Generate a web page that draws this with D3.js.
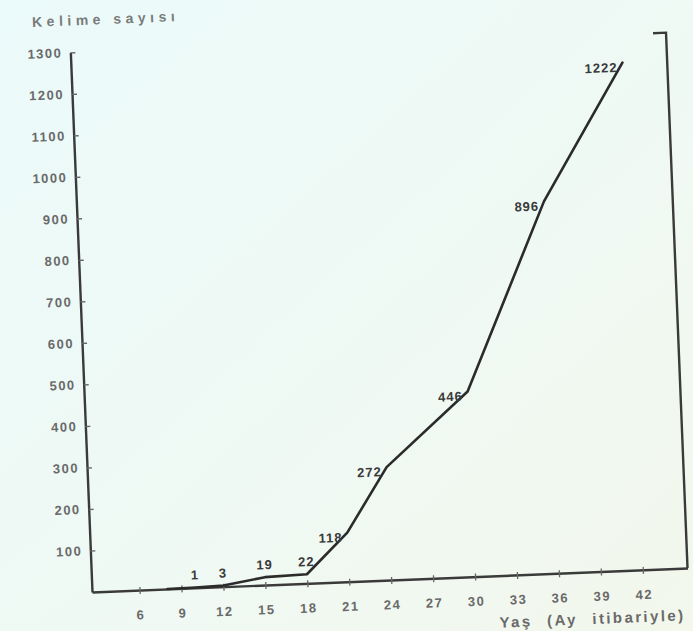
<!DOCTYPE html>
<html>
<head>
<meta charset="utf-8">
<script src="https://cdn.jsdelivr.net/npm/d3@7"></script>
<style>
  body { margin: 0; background: #eff9f5; }
  text { font-family: "Liberation Sans", Arial, sans-serif; }
</style>
</head>
<body>
<div id="vis-container"></div>
<script>
// Kelime sayısı by age (months)
const months = [8, 10, 12, 15, 18, 21, 24, 30, 36, 42];
const words = [0, 1, 3, 19, 22, 118, 272, 446, 896, 1222];
const xTicks = [6, 9, 12, 15, 18, 21, 24, 27, 30, 33, 36, 39, 42];
const yTicks = [100, 200, 300, 400, 500, 600, 700, 800, 900, 1000, 1100, 1200, 1300];

const width = 693,
  height = 631,
  margin = {top: 52, left: 92},
  dWidth = 596,
  dHeight = 540,
  tilt = -2.3; // scan is slightly rotated

const svg = d3.select('#vis-container')
  .append('svg')
  .attr('width', width)
  .attr('height', height);

let grad = svg.append("defs").append("linearGradient")
  .attr("id", "paper").attr("x1", 0).attr("y1", 0).attr("x2", 1).attr("y2", 1);
grad.append("stop").attr("offset", "0%").attr("stop-color", "#ebfafa");
grad.append("stop").attr("offset", "55%").attr("stop-color", "#eff9f4");
grad.append("stop").attr("offset", "100%").attr("stop-color", "#f3f7ec");

svg.append("rect").attr("width", width).attr("height", height).attr("fill", "url(#paper)");

const g = svg.append("g")
  .attr("transform", `rotate(${tilt},${margin.left},${margin.top + dHeight}) translate(${margin.left},${margin.top})`);

let x = d3.scaleLinear().domain([2.6, 45.2]).range([0, dWidth]);
let y = d3.scaleLinear().domain([0, 1300]).range([dHeight, 0]);

// y axis, ticks pointing inward
let yAxis = g.append("g")
  .call(d3.axisLeft(y).tickValues(yTicks).tickFormat(d3.format("d"))
    .tickSizeInner(-5).tickSizeOuter(0).tickPadding(8));
yAxis.select(".domain").attr("stroke", "#3a3a3a").attr("stroke-width", 2.4);
yAxis.selectAll(".tick line").attr("stroke", "#666").attr("stroke-width", 1.3);
yAxis.selectAll(".tick text")
  .attr("fill", "#6a6a6a").attr("font-size", 13).attr("font-weight", "bold")
  .attr("letter-spacing", 1.5);

// x axis
let xAxis = g.append("g")
  .attr("transform", `translate(0,${dHeight})`)
  .call(d3.axisBottom(x).tickValues(xTicks).tickSizeOuter(0).tickSizeInner(6).tickPadding(14));
xAxis.select(".domain").attr("stroke", "#3a3a3a").attr("stroke-width", 2.4);
xAxis.selectAll(".tick line").attr("y1", -3).attr("y2", 4).attr("stroke", "#666").attr("stroke-width", 1.3);
xAxis.selectAll(".tick text")
  .attr("fill", "#6a6a6a").attr("font-size", 13).attr("font-weight", "bold")
  .attr("letter-spacing", 1.5);

// right side bracket
g.append("path")
  .attr("fill", "none")
  .attr("stroke", "#3a3a3a")
  .attr("stroke-width", 2.4)
  .attr("d", `M${dWidth - 13},${y(1290)}H${dWidth}V${dHeight}`);

let data = months.map((m, i) => ({m: m, w: words[i]}));

let line = d3.line()
  .x(d => x(d.m))
  .y(d => y(d.w));

g.append("path")
  .datum(data)
  .attr("fill", "none")
  .attr("stroke", "#2b2b2b")
  .attr("stroke-width", 2.6)
  .attr("stroke-linejoin", "round")
  .attr("stroke-linecap", "round")
  .attr("d", line);

g.selectAll(".val")
  .data(data.filter(d => d.w > 0))
  .enter().append("text")
  .attr("class", "val")
  .attr("x", d => x(d.m))
  .attr("y", d => y(d.w))
  .attr("dx", d => d.w < 50 ? 0 : -5)
  .attr("dy", d => d.w < 50 ? -8 : 9)
  .attr("text-anchor", d => d.w < 50 ? "middle" : "end")
  .attr("fill", "#3a3a3a")
  .attr("font-size", 13)
  .attr("font-weight", "bold")
  .attr("letter-spacing", 1)
  .text(d => d.w);

// axis titles
g.append("text")
  .attr("x", -37)
  .attr("y", -27)
  .attr("fill", "#7a7a7a")
  .attr("font-size", 14)
  .attr("font-weight", "bold")
  .attr("letter-spacing", 4.5)
  .text("Kelime sayısı");

g.append("text")
  .attr("x", dWidth - 4)
  .attr("y", dHeight + 52)
  .attr("text-anchor", "end")
  .attr("fill", "#6a6a6a")
  .attr("font-size", 15)
  .attr("font-weight", "bold")
  .attr("letter-spacing", 2.4)
  .attr("word-spacing", 8)
  .text("Yaş (Ay itibariyle)");
</script>
</body>
</html>
